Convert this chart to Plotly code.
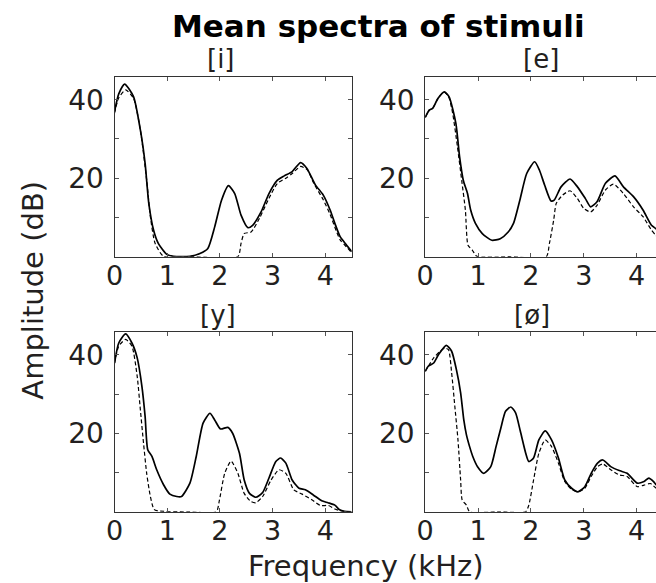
import plotly.graph_objects as go

# ---------------- data (kHz, dB) ----------------
i_solid_f = [0.0, 0.08, 0.19, 0.36, 0.49, 0.58, 0.65, 0.74, 0.83, 0.99, 1.12, 1.43, 1.62, 1.77, 1.90, 2.03, 2.16, 2.28, 2.40, 2.53, 2.62, 2.78, 2.93, 3.09, 3.22, 3.37, 3.53, 3.65, 3.81, 3.96, 4.09, 4.18, 4.28, 4.40, 4.50]
i_solid_a = [37.0, 41.5, 44.0, 40.8, 32.3, 23.8, 13.6, 6.8, 3.4, 0.6, 0.1, 0.1, 0.8, 2.1, 7.6, 14.4, 18.1, 16.1, 10.6, 7.4, 8.0, 11.4, 16.1, 19.5, 20.6, 21.7, 24.0, 22.5, 18.3, 15.7, 11.9, 8.5, 5.1, 3.0, 1.3]
i_dash_f = [0.0, 0.08, 0.21, 0.36, 0.49, 0.61, 0.68, 0.77, 0.93, 1.50, 2.34, 2.40, 2.46, 2.59, 2.75, 2.93, 3.09, 3.25, 3.37, 3.53, 3.66, 3.78, 3.96, 4.09, 4.18, 4.28, 4.40, 4.50]
i_dash_a = [36.6, 40.5, 42.5, 40.4, 32.3, 19.5, 10.2, 3.4, 0.1, 0.0, 0.0, 3.4, 5.9, 6.3, 9.8, 14.9, 18.7, 20.0, 21.2, 23.0, 22.1, 18.7, 14.5, 10.8, 7.5, 4.3, 2.5, 1.0]

e_solid_f = [0.0, 0.08, 0.14, 0.24, 0.36, 0.45, 0.58, 0.65, 0.72, 0.80, 0.86, 0.95, 1.08, 1.26, 1.42, 1.57, 1.67, 1.79, 1.92, 2.07, 2.16, 2.26, 2.38, 2.44, 2.57, 2.74, 2.88, 3.03, 3.13, 3.25, 3.41, 3.59, 3.75, 3.94, 4.12, 4.28, 4.36, 4.50]
e_solid_a = [35.5, 37.4, 37.8, 40.3, 42.0, 40.8, 34.0, 25.5, 19.5, 16.1, 11.9, 8.5, 5.9, 4.2, 4.6, 6.3, 8.5, 14.4, 21.2, 24.2, 22.1, 18.2, 14.2, 14.4, 17.8, 19.8, 17.8, 14.8, 12.7, 14.0, 18.7, 20.6, 17.8, 15.3, 11.9, 8.0, 7.2, 5.8]
e_dash_f = [0.0, 0.08, 0.14, 0.24, 0.36, 0.45, 0.52, 0.61, 0.69, 0.76, 0.81, 0.89, 0.98, 1.60, 2.29, 2.35, 2.43, 2.48, 2.60, 2.74, 2.88, 3.00, 3.13, 3.25, 3.41, 3.56, 3.75, 3.94, 4.12, 4.28, 4.36, 4.50]
e_dash_a = [35.5, 37.4, 37.8, 40.3, 42.0, 40.5, 36.5, 28.0, 19.5, 11.9, 2.9, 1.7, 0.1, 0.0, 0.0, 3.4, 9.3, 13.6, 15.7, 16.8, 14.8, 12.3, 11.4, 13.1, 17.0, 18.5, 16.1, 12.7, 10.2, 6.8, 5.5, 4.3]

y_solid_f = [0.0, 0.08, 0.21, 0.33, 0.43, 0.52, 0.58, 0.63, 0.71, 0.80, 0.93, 1.05, 1.18, 1.27, 1.43, 1.55, 1.68, 1.81, 1.90, 2.01, 2.15, 2.24, 2.37, 2.46, 2.56, 2.68, 2.81, 2.93, 3.06, 3.15, 3.25, 3.37, 3.50, 3.62, 3.77, 3.93, 4.05, 4.18, 4.27, 4.36, 4.50]
y_solid_a = [37.9, 43.0, 45.3, 43.0, 39.2, 31.9, 24.3, 15.8, 14.1, 10.7, 6.9, 4.5, 3.9, 3.9, 7.3, 14.1, 22.6, 25.1, 23.4, 21.1, 21.5, 20.0, 14.9, 8.1, 4.7, 3.7, 4.9, 8.6, 12.8, 13.7, 12.4, 8.1, 6.0, 5.6, 4.3, 2.8, 2.3, 1.7, 0.5, 0.1, 0.0]
y_dash_f = [0.0, 0.08, 0.21, 0.33, 0.43, 0.49, 0.55, 0.61, 0.68, 0.75, 0.83, 1.40, 1.93, 1.99, 2.09, 2.21, 2.34, 2.46, 2.59, 2.68, 2.81, 2.97, 3.12, 3.25, 3.40, 3.56, 3.75, 3.91, 4.06, 4.18, 4.30, 4.50]
y_dash_a = [37.9, 42.2, 43.9, 42.2, 34.5, 26.0, 17.5, 9.8, 3.9, 0.6, 0.2, 0.0, 0.0, 3.0, 9.8, 12.9, 9.8, 4.7, 2.6, 2.3, 3.9, 8.1, 10.7, 9.8, 5.6, 4.5, 3.0, 1.6, 1.6, 0.7, 0.2, 0.0]

o_solid_f = [0.0, 0.06, 0.16, 0.25, 0.40, 0.50, 0.59, 0.67, 0.73, 0.78, 0.84, 0.90, 0.99, 1.11, 1.24, 1.34, 1.43, 1.52, 1.62, 1.71, 1.80, 1.90, 1.96, 2.05, 2.15, 2.27, 2.39, 2.52, 2.64, 2.77, 2.89, 3.02, 3.14, 3.26, 3.36, 3.51, 3.67, 3.82, 4.01, 4.14, 4.23, 4.32, 4.37, 4.50]
o_solid_a = [35.8, 37.1, 37.9, 40.0, 42.4, 40.9, 36.2, 30.3, 23.4, 19.6, 16.6, 14.1, 11.5, 9.8, 11.5, 16.6, 21.3, 25.6, 26.7, 25.2, 20.5, 15.0, 12.8, 13.7, 18.3, 20.6, 18.3, 13.7, 8.1, 6.0, 5.1, 6.4, 9.8, 12.4, 13.2, 11.5, 10.5, 9.8, 7.3, 7.7, 8.6, 7.7, 6.9, 6.0]
o_dash_f = [0.0, 0.06, 0.16, 0.28, 0.37, 0.44, 0.50, 0.56, 0.62, 0.67, 0.70, 0.78, 0.84, 1.40, 1.90, 1.96, 2.05, 2.15, 2.27, 2.39, 2.52, 2.64, 2.77, 2.89, 3.02, 3.14, 3.26, 3.36, 3.51, 3.67, 3.82, 4.01, 4.14, 4.26, 4.37, 4.50]
o_dash_a = [35.8, 37.1, 39.2, 40.9, 41.7, 41.3, 35.4, 26.9, 18.3, 8.1, 3.0, 1.7, 0.0, 0.0, 0.0, 1.7, 8.1, 14.9, 18.3, 16.6, 12.4, 7.7, 5.7, 5.1, 6.0, 9.0, 11.5, 12.2, 10.7, 9.4, 9.0, 6.4, 6.8, 7.2, 6.0, 5.2]

panel_labels = ["[i]", "[e]", "[y]", "[ø]"]
x_ticks = [0, 1, 2, 3, 4]
y_ticks = [10, 20, 30, 40]
y_tick_text = ["", "20", "", "40"]

title_text = "Mean spectra of stimuli"
x_title = "Frequency (kHz)"
y_title = "Amplitude (dB)"

# ---------------- figure ----------------
FONT = "DejaVu Sans"
TXT = "#231f20"
W, H = 656, 583

panels = [
    (i_solid_f, i_solid_a, i_dash_f, i_dash_a),
    (e_solid_f, e_solid_a, e_dash_f, e_dash_a),
    (y_solid_f, y_solid_a, y_dash_f, y_dash_a),
    (o_solid_f, o_solid_a, o_dash_f, o_dash_a),
]

x_dom_left = [107 / W, 347.5 / W]
x_dom_right = [422 / W, 1.0]
y_dom_top = [1 - 256.7 / H, 1 - 77 / H]
y_dom_bot = [1 - 511.8 / H, 1 - 332 / H]
domains = [
    (x_dom_left, y_dom_top),
    (x_dom_right, y_dom_top),
    (x_dom_left, y_dom_bot),
    (x_dom_right, y_dom_bot),
]
x_ranges = [[0, 4.5], [0, 4.366], [0, 4.5], [0, 4.366]]

fig = go.Figure()
layout = dict(
    width=W, height=H,
    margin=dict(l=0, r=0, t=0, b=0),
    paper_bgcolor="white", plot_bgcolor="white",
    showlegend=False,
    font=dict(family=FONT, color=TXT),
)

for k, (sf, sa, df, da) in enumerate(panels):
    n = "" if k == 0 else str(k + 1)
    xa, ya = "x" + n, "y" + n
    fig.add_trace(go.Scatter(x=df, y=da, mode="lines", xaxis=xa, yaxis=ya,
                             line=dict(color="black", width=1.2, dash="4px,2.5px", shape="spline", smoothing=0.6),
                             hoverinfo="skip"))
    fig.add_trace(go.Scatter(x=sf, y=sa, mode="lines", xaxis=xa, yaxis=ya,
                             line=dict(color="black", width=1.7, shape="spline", smoothing=0.6),
                             hoverinfo="skip"))
    xd, yd = domains[k]
    right = k in (1, 3)
    layout["xaxis" + n] = dict(
        domain=xd, range=x_ranges[k], anchor=ya,
        tickvals=x_ticks, ticktext=[str(v) for v in x_ticks],
        ticks="inside", ticklen=4, tickwidth=1, tickcolor="#555",
        showline=True, linecolor="#333", linewidth=1, mirror="ticks",
        showgrid=False, zeroline=False,
        tickfont=dict(family=FONT, size=27, color=TXT),
        ticklabelstandoff=-5, fixedrange=True,
    )
    layout["yaxis" + n] = dict(
        domain=yd, range=[0, 45.8], anchor=xa,
        tickvals=y_ticks, ticktext=y_tick_text,
        ticks="inside", ticklen=4, tickwidth=1, tickcolor="#555",
        showline=True, linecolor="#333", linewidth=1,
        mirror=False if right else "ticks",
        showgrid=False, zeroline=False,
        tickfont=dict(family=FONT, size=28, color=TXT),
        ticklabelstandoff=4, fixedrange=True,
    )

label_pos = [(214.5, 59), (539, 59), (211.7, 315), (530, 315)]
annotations = []
for lab, (px, py) in zip(panel_labels, label_pos):
    annotations.append(dict(text=lab, x=px / W, y=1 - py / H, xref="paper", yref="paper",
                            showarrow=False, xanchor="center", yanchor="middle",
                            font=dict(family=FONT, size=26, color=TXT)))
annotations.append(dict(text="<b>" + title_text + "</b>", x=375 / W, y=1 - 26 / H,
                        xref="paper", yref="paper", showarrow=False,
                        xanchor="center", yanchor="middle",
                        font=dict(family=FONT, size=31, color="black")))
annotations.append(dict(text=x_title, x=361 / W, y=1 - 566 / H, xref="paper", yref="paper",
                        showarrow=False, xanchor="center", yanchor="middle",
                        font=dict(family=FONT, size=29, color=TXT)))
annotations.append(dict(text=y_title, x=24 / W, y=1 - 290 / H, xref="paper", yref="paper",
                        showarrow=False, xanchor="center", yanchor="middle", textangle=-90,
                        font=dict(family=FONT, size=29, color=TXT)))
layout["annotations"] = annotations

fig.update_layout(**layout)
fig.write_html("out.html")
